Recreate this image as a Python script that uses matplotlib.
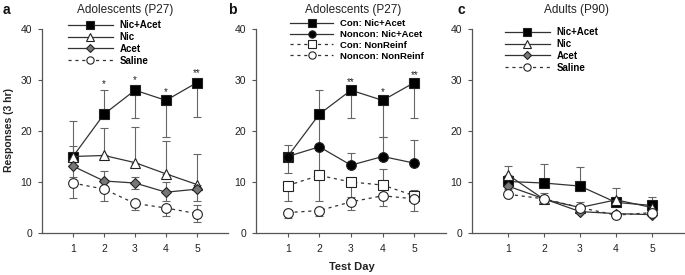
import matplotlib
matplotlib.use("Agg")
import matplotlib.pyplot as plt
import numpy as np

plt.rcParams['font.family'] = ['Liberation Sans', 'DejaVu Sans']

days = [1, 2, 3, 4, 5]

# Panel a: Adolescents (P27)
a_labels = ["Nic+Acet", "Nic", "Acet", "Saline"]
a_nicacet = [15, 23.3, 28, 26, 29.5]
a_nicacet_lo = [0, 0, 5.5, 7.1, 6.8]
a_nicacet_hi = [7, 4.7, 0, 0, 0]
a_nic = [15, 15.2, 13.8, 11.6, 9.5]
a_nic_lo = [0, 0, 0, 0, 0]
a_nic_hi = [0, 5.3, 7, 6.4, 6]
a_acet = [13.1, 10.2, 9.8, 8.0, 8.6]
a_acet_lo = [2.1, 0, 1.2, 1.8, 2.3]
a_acet_hi = [4.0, 2.0, 1.2, 2.0, 0]
a_sal = [9.8, 8.6, 5.8, 4.9, 3.8]
a_sal_lo = [3.0, 2.4, 1.3, 1.6, 1.6]
a_sal_hi = [0, 0, 0, 0, 1.6]
a_stars = ["", "*", "*", "*", "**"]
a_star_y = [0, 29.2, 30.0, 27.6, 31.4]

# Panel b: Adolescents (P27)
b_labels = ["Con: Nic+Acet", "Noncon: Nic+Acet", "Con: NonReinf", "Noncon: NonReinf"]
b_con = [15, 23.3, 28, 26, 29.5]
b_con_lo = [0, 6.5, 5.5, 7.2, 6.9]
b_con_hi = [0, 4.7, 0, 0, 0]
b_non = [15, 16.9, 13.3, 15, 13.7]
b_non_lo = [3.2, 5.6, 0, 0, 0]
b_non_hi = [2.2, 0, 2.4, 3.8, 4.5]
b_cnr = [9.3, 11.3, 10, 9.4, 7.3]
b_cnr_lo = [3.1, 5.0, 3.0, 0, 0]
b_cnr_hi = [0, 0, 0, 3.1, 1.2]
b_nnr = [4.0, 4.4, 6.1, 7.3, 6.7]
b_nnr_lo = [1.0, 1.1, 1.5, 2.1, 2.4]
b_nnr_hi = [0, 0, 0, 0, 0]
b_stars = ["", "", "**", "*", "**"]
b_star_y = [0, 0, 29.6, 27.6, 31.0]

# Panel c: Adults (P90)
c_nicacet = [10.1, 9.8, 9.2, 6.0, 5.4]
c_nicacet_lo = [0, 0, 0, 0, 0]
c_nicacet_hi = [0, 3.8, 3.7, 2.8, 1.7]
c_nic = [11.4, 6.6, 5.0, 6.5, 5.0]
c_nic_lo = [0, 0, 0, 0, 0]
c_nic_hi = [1.8, 1.3, 1.0, 0, 0]
c_acet = [9.2, 6.7, 4.2, 3.8, 3.6]
c_acet_lo = [0.6, 0.8, 0, 0, 0]
c_acet_hi = [0, 0, 0, 0, 0]
c_sal = [7.6, 6.7, 5.0, 3.5, 4.0]
c_sal_lo = [0, 0.9, 0, 0.5, 0]
c_sal_hi = [0, 0, 0, 0, 0]

yticks = [0, 10, 20, 30, 40]

LC = '#333333'
EC = '#666666'
DASH = (0, (2.5, 3))

fig = plt.figure(figsize=(6.85, 2.75), dpi=100)

def px_axes(l, r, top, bottom):
    W, H = 685, 275
    return fig.add_axes([l / W, 1 - bottom / H, (r - l) / W, (bottom - top) / H])

axA = px_axes(42, 228, 29, 233)
axB = px_axes(256, 446, 29, 233)
axC = px_axes(472, 688, 29, 233)

def style(ax):
    ax.set_xlim(0, 6)
    ax.set_ylim(0, 40)
    ax.set_yticks(yticks)
    ax.set_xticks(days)
    for s in ['top', 'right']:
        ax.spines[s].set_visible(False)
    for s in ['left', 'bottom']:
        ax.spines[s].set_color('#555555')
        ax.spines[s].set_linewidth(0.9)
    ax.tick_params(axis='both', direction='out', length=3, width=0.8,
                   color='#555555', labelsize=7.5, labelcolor='#222222')
    ax.tick_params(axis='x', pad=5)
    ax.tick_params(axis='y', pad=4)

def series(ax, y, lo, hi, marker, mfc, ms, ls='-', label=None, mec='#222222'):
    ax.errorbar(days, y, yerr=[lo, hi], fmt='none', ecolor=EC, elinewidth=0.8,
                capsize=3, capthick=0.8, zorder=1)
    h, = ax.plot(days, y, linestyle=ls, color=LC, lw=0.9, marker=marker,
                 mfc=mfc, mec=mec, ms=ms, mew=0.8, label=label, zorder=3)
    return h

def legend(ax, handles, x, ytop, size=7):
    leg = ax.legend(handles=handles, loc='upper left',
                    bbox_to_anchor=(x / 685, 1 - ytop / 275),
                    bbox_transform=fig.transFigure, frameon=False,
                    prop={'weight': 'bold', 'size': size}, handlelength=4.6,
                    handletextpad=0.7, labelspacing=0.2, borderpad=0,
                    borderaxespad=0, numpoints=1, markerscale=0.75)
    return leg

def stars(ax, labels, ys):
    for d, s, yy in zip(days, labels, ys):
        if s:
            ax.text(d, yy, s, ha='center', va='center', fontsize=7, color='#222222')

# Panel a
style(axA)
h1 = series(axA, a_nicacet, a_nicacet_lo, a_nicacet_hi, 's', 'black', 7, label=a_labels[0])
h2 = series(axA, a_nic, a_nic_lo, a_nic_hi, '^', 'white', 7, label=a_labels[1])
h3 = series(axA, a_acet, a_acet_lo, a_acet_hi, 'D', '#777777', 5.5, label=a_labels[2])
h4 = series(axA, a_sal, a_sal_lo, a_sal_hi, 'o', 'white', 7, ls=DASH, label=a_labels[3])
stars(axA, a_stars, a_star_y)
legend(axA, [h1, h2, h3, h4], 68, 20)

# Panel b
style(axB)
g1 = series(axB, b_con, b_con_lo, b_con_hi, 's', 'black', 7, label=b_labels[0])
g2 = series(axB, b_non, b_non_lo, b_non_hi, 'o', 'black', 7, label=b_labels[1])
g3 = series(axB, b_cnr, b_cnr_lo, b_cnr_hi, 's', 'white', 7, ls=DASH, label=b_labels[2])
g4 = series(axB, b_nnr, b_nnr_lo, b_nnr_hi, 'o', 'white', 7, ls=DASH, label=b_labels[3])
stars(axB, b_stars, b_star_y)
legend(axB, [g1, g2, g3, g4], 290, 19, size=6.8)

# Panel c
style(axC)
k1 = series(axC, c_nicacet, c_nicacet_lo, c_nicacet_hi, 's', 'black', 7, label=a_labels[0])
k2 = series(axC, c_nic, c_nic_lo, c_nic_hi, '^', 'white', 7, label=a_labels[1])
k3 = series(axC, c_acet, c_acet_lo, c_acet_hi, 'D', '#777777', 5.5, label=a_labels[2])
k4 = series(axC, c_sal, c_sal_lo, c_sal_hi, 'o', 'white', 7, ls=DASH, label=a_labels[3])
legend(axC, [k1, k2, k3, k4], 505, 27)

# Titles and panel letters
fig.text(125 / 685, 1 - 10 / 275, "Adolescents (P27)", ha='center', va='center',
         fontsize=8.5, color='#222222')
fig.text(353 / 685, 1 - 10 / 275, "Adolescents (P27)", ha='center', va='center',
         fontsize=8.5, color='#222222')
fig.text(577 / 685, 1 - 10 / 275, "Adults (P90)", ha='center', va='center',
         fontsize=8.5, color='#222222')
for x, l in [(3, 'a'), (228, 'b'), (457, 'c')]:
    fig.text(x / 685, 1 - 10 / 275, l, ha='left', va='center', fontsize=10,
             fontweight='bold', color='#111111')

fig.text(9 / 685, 1 - 130 / 275, "Responses (3 hr)", rotation=90, ha='center',
         va='center', fontsize=7.5, fontweight='bold', color='#222222')
fig.text(352 / 685, 1 - 267 / 275, "Test Day", ha='center', va='center',
         fontsize=8, fontweight='bold', color='#222222')

fig.savefig("out.png", dpi=100)
